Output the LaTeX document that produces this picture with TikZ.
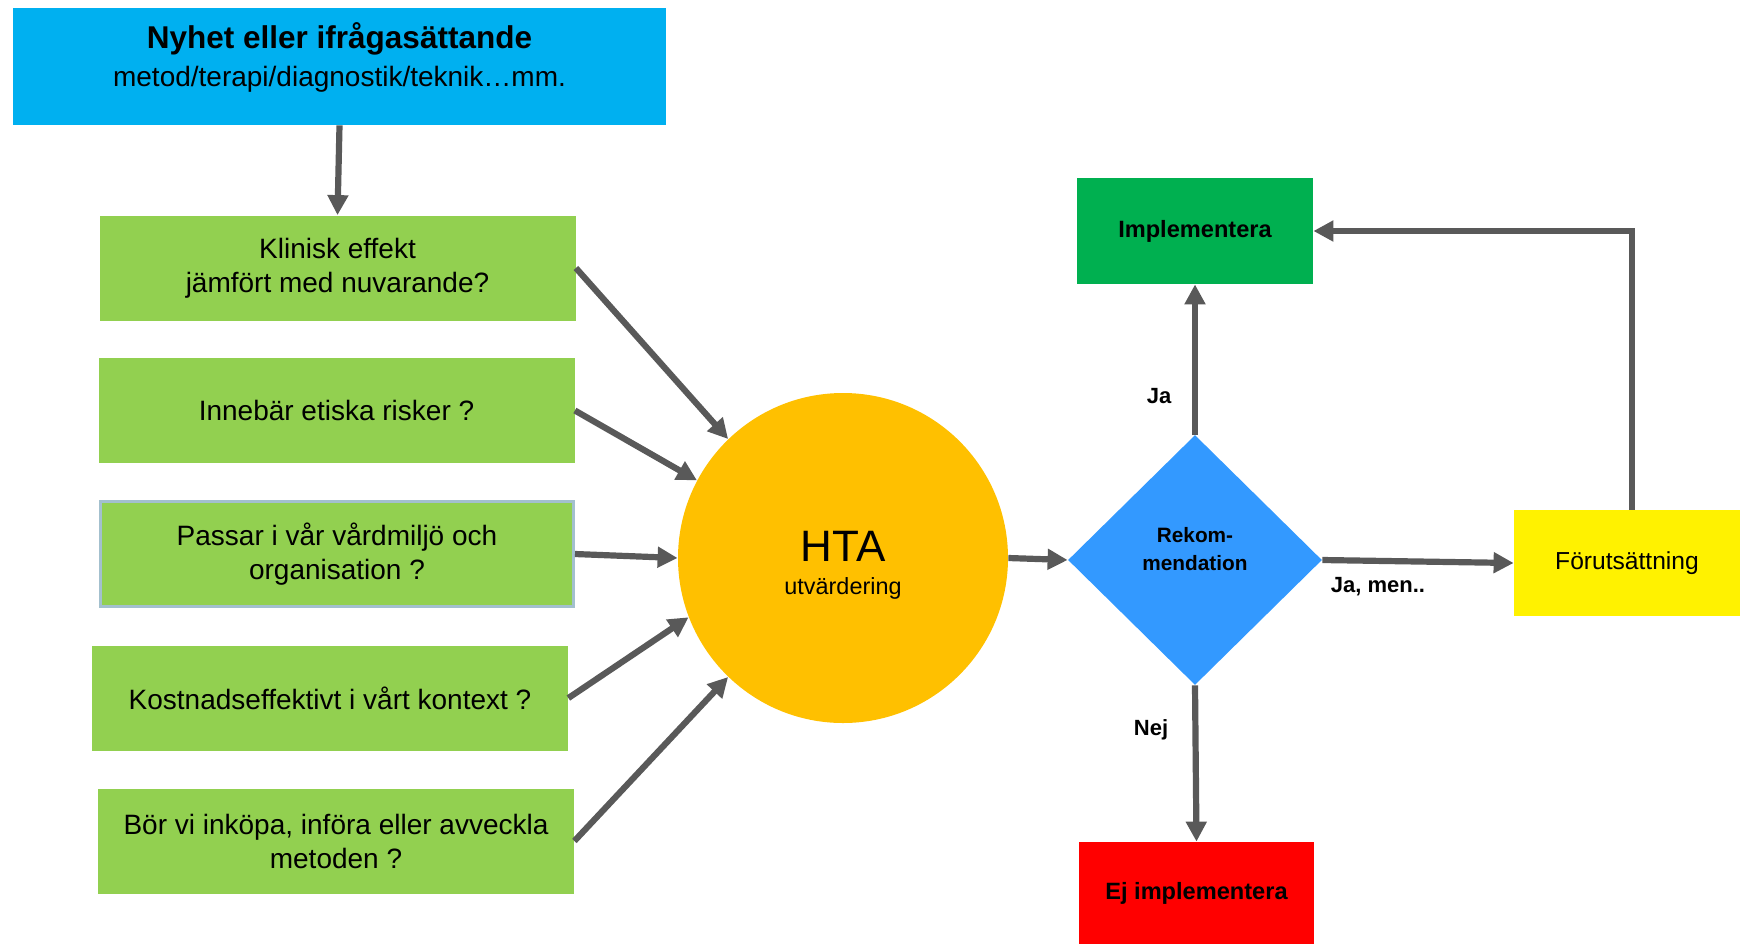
\documentclass[tikz,border=0pt]{standalone}
\usepackage{fontspec}
\setmainfont{Liberation Sans}
\usetikzlibrary{calc,arrows.meta,shapes.geometric}

\definecolor{nyhetblau}{HTML}{00B0F0}
\definecolor{fragegruen}{HTML}{92D050}
\definecolor{htagelb}{HTML}{FFC000}
\definecolor{rekblau}{HTML}{3399FF}
\definecolor{implgruen}{HTML}{00B050}
\definecolor{pfeilgrau}{HTML}{595959}
\definecolor{randgrau}{HTML}{A3C0CE}

\tikzset{
  frage/.style={fill=fragegruen, minimum width=238pt, minimum height=52.5pt, inner sep=0pt, align=center, font=\fontsize{14}{17}\selectfont},
  ergebnis/.style={minimum width=118pt, minimum height=53pt, inner sep=0pt, align=center, font=\fontsize{11.8}{14}\selectfont\bfseries},
  pfeil/.style={draw=pfeilgrau, line width=3.1pt, -{Triangle[length=10pt,width=10pt]}},
  antwort/.style={inner sep=0pt, font=\fontsize{11}{13}\selectfont\bfseries},
}

\begin{document}
\begin{tikzpicture}[x=0.5pt,y=-0.5pt] % 1 einheit = 1px der vorlage
\useasboundingbox (0,0) rectangle (1740,944);

%KOPF
\node [fill=nyhetblau, minimum width=326.5pt, minimum height=58.5pt, inner sep=0pt] (nyhet) at (339.5,66.5) {};
\node [align=center, inner sep=0pt, font=\fontsize{14}{19}\selectfont] (nyhettext) at (339.5,57) {{\fontsize{15.75}{19}\selectfont\bfseries Nyhet eller ifrågasättande}\\metod/terapi/diagnostik/teknik…mm.};

%FRAGEN (von oben)
\node [frage] (klinisk) at (337.5,268) {Klinisk effekt\\jämfört med nuvarande?};
\node [frage] (etik) at (336.5,410.5) {Innebär etiska risker ?};
\node [frage, draw=randgrau, line width=1.5pt, minimum width=236.5pt, minimum height=52.5pt] (miljo) at (337,554) {Passar i vår vårdmiljö och\\organisation ?};
\node [frage] (kostnad) at (330,698) {Kostnadseffektivt i vårt kontext ?};
\node [frage] (inkop) at (336,841) {Bör vi inköpa, införa eller avveckla\\metoden ?};

%HTA
\node [circle, fill=htagelb, minimum size=165pt, inner sep=0pt] (hta) at (843,558) {};
\node [align=center, inner sep=0pt, font=\fontsize{11.7}{16.5}\selectfont] (htatext) at (843,565) {{\fontsize{22}{16.5}\selectfont HTA}\\utvärdering};

%REKOMMENDATION
\node [diamond, fill=rekblau, minimum width=127pt, minimum height=125pt, inner sep=0pt] (rek) at (1195,560) {};
\node [align=center, inner sep=0pt, font=\fontsize{10.4}{14}\selectfont\bfseries] (rektext) at (1195,549) {Rekom-\\mendation};

%ERGEBNISSE
\node [ergebnis, fill=implgruen] (impl) at (1195,231) {Implementera};
\node [ergebnis, fill=red, minimum width=117.5pt, minimum height=51pt] (ejimpl) at (1196.5,893) {Ej implementera};
\node [fill=yellow, minimum width=113pt, minimum height=53pt, inner sep=0pt, font=\fontsize{12.3}{14}\selectfont] (forut) at (1627,563) {Förutsättning};

%PFEILE
\draw [pfeil] (nyhet.south) -- (klinisk.north);
\draw [pfeil] (klinisk.east) -- (hta.134);
\draw [pfeil] (etik.east) -- (hta.152);
\draw [pfeil] (miljo.east) -- (hta.180);
\draw [pfeil] (kostnad.east) -- (hta.201);
\draw [pfeil] (inkop.east) -- (hta.226);
\draw [pfeil] (hta.east) -- (rek.west);
\draw [pfeil] (rek.north) -- (impl.south);
\draw [pfeil] (rek.south) -- (ejimpl.north);
\draw [pfeil] (rek.east) -- (forut.west);
\draw [pfeil] ([xshift=2.5pt]forut.north) |- (impl.east);

%ANTWORTEN
\node [antwort] (ja) at (1159,396) {Ja};
\node [antwort] (jamen) at (1378,587) {Ja, men..};
\node [antwort] (nej) at (1151,730) {Nej};

\end{tikzpicture}
\end{document}
